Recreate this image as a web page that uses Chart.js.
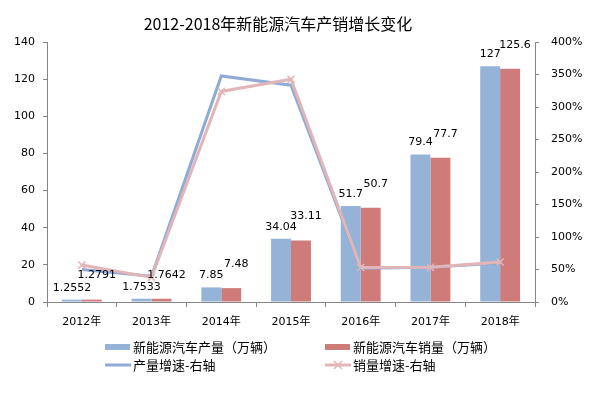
<!DOCTYPE html>
<html lang="zh">
<head>
    <meta charset="UTF-8">
    <title>2012-2018年新能源汽车产销增长变化</title>
    <script src="https://cdn.jsdelivr.net/npm/chart.js"></script>
    <style>
        body {
            margin: 0;
            background: #ffffff;
        }
        .wrap {
            position: relative;
            width: 594px;
            height: 393px;
        }
    </style>
</head>
<body>
    <div class="wrap">
        <canvas id="nevChart"></canvas>
    </div>
<script>
    // 数据
    const years = ['2012年', '2013年', '2014年', '2015年', '2016年', '2017年', '2018年'];
    const production = [1.2552, 1.7533, 7.85, 34.04, 51.7, 79.4, 127];
    const sales = [1.2791, 1.7642, 7.48, 33.11, 50.7, 77.7, 125.6];
    const productionGrowth = [50, 39.7, 347.7, 333.6, 51.9, 53.6, 59.9];
    const salesGrowth = [56.8, 37.9, 324, 342.6, 53.1, 53.3, 61.6];
    const leftTicks = [0, 20, 40, 60, 80, 100, 120, 140];
    const rightTicks = [0, 50, 100, 150, 200, 250, 300, 350, 400];

    const titleText = '2012-2018年新能源汽车产销增长变化';
    const labelFont = '11px "DejaVu Sans", "Noto Sans CJK SC", sans-serif';
    const axisColor = '#868686';

    const blueBar = '#95b3d7';
    const redBar = '#cf7b7a';
    const blueLine = '#8eaad5';
    const pinkLine = '#e2b6b8';

    // 标题、数据标签、图例 都画在画布上
    const extras = {
        id: 'extras',
        afterDatasetsDraw(chart) {
            const ctx = chart.ctx;
            ctx.save();
            ctx.font = labelFont;
            ctx.fillStyle = '#000';
            ctx.textAlign = 'center';
            ctx.textBaseline = 'middle';
            chart.getDatasetMeta(0).data.forEach((bar, i) => {
                ctx.fillText(String(production[i]), bar.x, bar.y - 12);
            });
            chart.getDatasetMeta(1).data.forEach((bar, i) => {
                ctx.fillText(String(sales[i]), bar.x + 5, bar.y - 24);
            });
            ctx.restore();
        },
        afterDraw(chart) {
            const ctx = chart.ctx;
            ctx.save();
            ctx.fillStyle = '#000';
            ctx.textBaseline = 'middle';
            ctx.textAlign = 'center';
            ctx.font = '16px "Noto Sans CJK SC", sans-serif';
            ctx.fillText(titleText, 278, 24);

            // 图例 2x2
            ctx.textAlign = 'left';
            ctx.font = '13px "Noto Sans CJK SC", sans-serif';
            const cols = [105, 325];
            const rows = [347, 365];
            chart.data.datasets.forEach((ds, i) => {
                const x = cols[i % 2];
                const y = rows[Math.floor(i / 2)];
                if (ds.type === 'line') {
                    ctx.strokeStyle = ds.borderColor;
                    ctx.lineWidth = 3;
                    ctx.beginPath();
                    ctx.moveTo(x, y);
                    ctx.lineTo(x + 26, y);
                    ctx.stroke();
                    if (ds.pointRadius > 0) {
                        ctx.lineWidth = 1.5;
                        ctx.beginPath();
                        ctx.moveTo(x + 9, y - 4);
                        ctx.lineTo(x + 17, y + 4);
                        ctx.moveTo(x + 17, y - 4);
                        ctx.lineTo(x + 9, y + 4);
                        ctx.stroke();
                    }
                } else {
                    ctx.fillStyle = ds.backgroundColor;
                    ctx.fillRect(x, y - 3, 25, 6);
                }
                ctx.fillStyle = '#000';
                ctx.fillText(ds.label, x + 28, y);
            });
            ctx.restore();
        }
    };

    const ctx = document.getElementById('nevChart').getContext('2d');
    new Chart(ctx, {
        type: 'bar',
        data: {
            labels: years,
            datasets: [
                {
                    label: '新能源汽车产量（万辆）',
                    data: production,
                    backgroundColor: blueBar,
                    yAxisID: 'y',
                    order: 3,
                    categoryPercentage: 0.572,
                    barPercentage: 1.0
                },
                {
                    label: '新能源汽车销量（万辆）',
                    data: sales,
                    backgroundColor: redBar,
                    yAxisID: 'y',
                    order: 3,
                    categoryPercentage: 0.572,
                    barPercentage: 1.0
                },
                {
                    type: 'line',
                    label: '产量增速-右轴',
                    data: productionGrowth,
                    borderColor: blueLine,
                    backgroundColor: blueLine,
                    borderWidth: 3,
                    pointRadius: 0,
                    tension: 0,
                    yAxisID: 'y1',
                    order: 2
                },
                {
                    type: 'line',
                    label: '销量增速-右轴',
                    data: salesGrowth,
                    borderColor: pinkLine,
                    backgroundColor: pinkLine,
                    borderWidth: 3,
                    pointStyle: 'crossRot',
                    pointRadius: 5,
                    pointBorderWidth: 1.5,
                    tension: 0,
                    yAxisID: 'y1',
                    order: 1
                }
            ]
        },
        options: {
            responsive: true,
            maintainAspectRatio: false,
            animation: false,
            layout: {
                padding: { top: 42, bottom: 61, left: 0, right: 0 }
            },
            plugins: {
                legend: { display: false },
                title: { display: false },
                tooltip: { enabled: false }
            },
            scales: {
                x: {
                    grid: {
                        display: true,
                        drawOnChartArea: false,
                        drawTicks: true,
                        tickLength: 5,
                        color: axisColor
                    },
                    border: { display: true, color: axisColor },
                    ticks: {
                        color: '#000',
                        padding: 9,
                        font: { family: '"DejaVu Sans", "Noto Sans CJK SC", sans-serif', size: 11 },
                        maxRotation: 0
                    },
                    afterFit(scale) { scale.height = 30; }
                },
                y: {
                    position: 'left',
                    min: 0,
                    max: 140,
                    afterBuildTicks(scale) { scale.ticks = leftTicks.map(v => ({ value: v })); },
                    grid: {
                        display: true,
                        drawOnChartArea: false,
                        tickLength: 4,
                        color: axisColor
                    },
                    border: { display: true, color: axisColor },
                    ticks: {
                        color: '#000',
                        padding: 8,
                        font: { family: '"DejaVu Sans", sans-serif', size: 11 }
                    },
                    afterFit(scale) { scale.width = 47; }
                },
                y1: {
                    position: 'right',
                    min: 0,
                    max: 400,
                    afterBuildTicks(scale) { scale.ticks = rightTicks.map(v => ({ value: v })); },
                    grid: {
                        display: true,
                        drawOnChartArea: false,
                        tickLength: 4,
                        color: axisColor
                    },
                    border: { display: true, color: axisColor },
                    ticks: {
                        color: '#000',
                        padding: 12,
                        font: { family: '"DejaVu Sans", sans-serif', size: 11 },
                        callback: v => v + '%'
                    },
                    afterFit(scale) { scale.width = 59; }
                }
            }
        },
        plugins: [extras]
    });
</script>
</body>
</html>
